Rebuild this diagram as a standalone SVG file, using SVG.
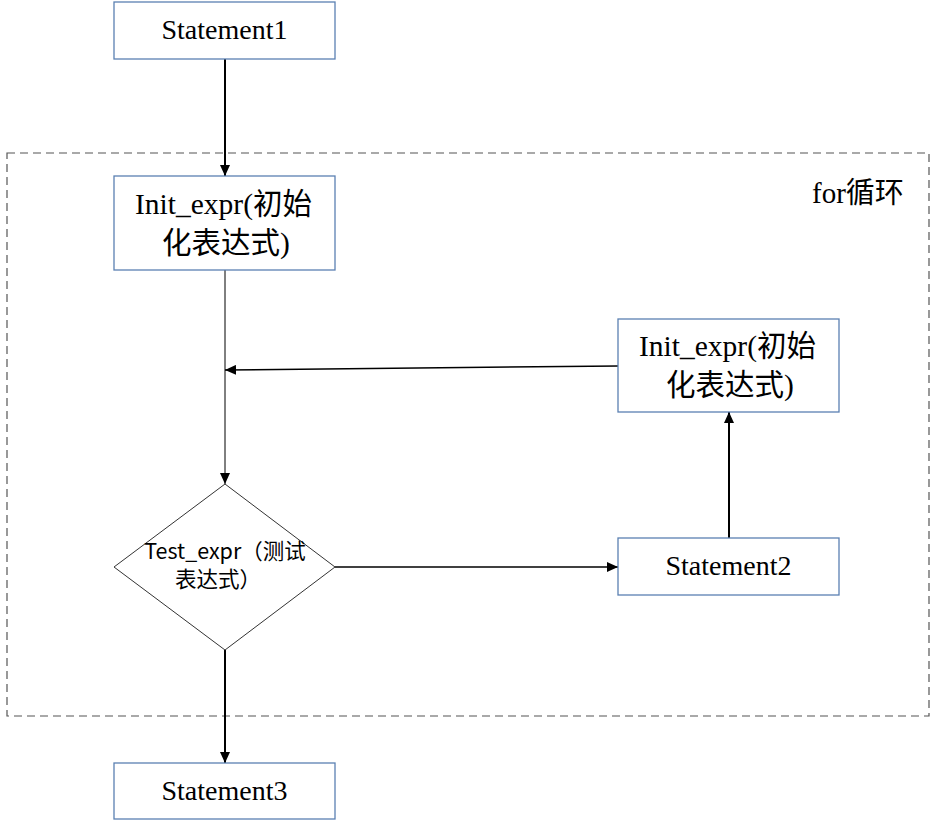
<svg xmlns="http://www.w3.org/2000/svg" width="936" height="823" viewBox="0 0 936 823">
<style>
.box{fill:#fff;stroke:#5b80b2;stroke-width:1.3}
.t{font-family:'Liberation Serif','Times New Roman','Noto Sans CJK SC',serif;font-size:28px;fill:#000;text-anchor:middle}
.i{font-size:29.5px}
.s{font-family:'Noto Sans CJK SC','Noto Sans',sans-serif;font-size:21.5px;fill:#000;text-anchor:middle}
.c{fill:none;stroke:#000}
</style>
<defs>
<marker id="a" viewBox="0 0 10 12" refX="10" refY="6" markerWidth="11" markerHeight="10" markerUnits="userSpaceOnUse" orient="auto" preserveAspectRatio="none"><path d="M0,0L10,6L0,12z" fill="#000"/></marker>
</defs>
<rect x="7" y="153" width="922" height="563" fill="none" stroke="#555" stroke-width="1.2" stroke-dasharray="8,5"/>
<text x="812" y="203" class="t" style="font-size:29px;text-anchor:start">for循环</text>
<g id="connectors">
<line class="c" x1="225" y1="59" x2="225" y2="176" stroke-width="2" marker-end="url(#a)"/>
<line class="c" x1="225" y1="270" x2="225" y2="484" stroke-width="1" marker-end="url(#a)"/>
<line class="c" x1="618" y1="366" x2="225" y2="370" stroke-width="1.5" marker-end="url(#a)"/>
<line class="c" x1="729" y1="538" x2="729" y2="412" stroke-width="2" marker-end="url(#a)"/>
<line class="c" x1="335" y1="567" x2="618" y2="567" stroke-width="1.5" marker-end="url(#a)"/>
<line class="c" x1="225" y1="650" x2="225" y2="763" stroke-width="2" marker-end="url(#a)"/>
</g>
<g id="statement1">
<rect class="box" x="114" y="2" width="221" height="57"/>
<text class="t" x="224.5" y="39">Statement1</text>
</g>
<g id="init1">
<rect class="box" x="114" y="176" width="221" height="94"/>
<text class="t i" x="223.5" y="214">Init_expr(初始</text>
<text class="t i" x="226" y="253">化表达式)</text>
</g>
<g id="init2">
<rect class="box" x="618" y="319" width="221" height="93"/>
<text class="t i" x="727.5" y="356">Init_expr(初始</text>
<text class="t i" x="730" y="395">化表达式)</text>
</g>
<g id="test">
<polygon points="225,484 335,567 225,650 114,567" fill="#fff" stroke="#333" stroke-width="1"/>
<text class="s" x="225" y="559">Test_expr（测试</text>
<text class="s" x="218" y="587">表达式）</text>
</g>
<g id="statement2">
<rect class="box" x="618" y="538" width="221" height="57"/>
<text class="t" x="728.5" y="575">Statement2</text>
</g>
<g id="statement3">
<rect class="box" x="114" y="763" width="221" height="56"/>
<text class="t" x="224.5" y="800">Statement3</text>
</g>
</svg>
